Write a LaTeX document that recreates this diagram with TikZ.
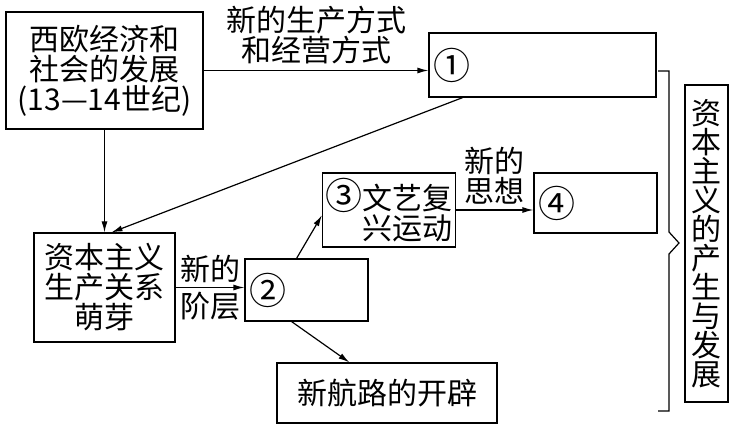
\documentclass[tikz,border=0pt]{standalone}
\usepackage{fontspec}
\newfontfamily\cjk{Noto Sans CJK SC}
\usetikzlibrary{positioning, arrows.meta, calc}
\newcommand{\cnum}[1]{{\fontsize{37}{29}\selectfont #1}}

\begin{document}
\begin{tikzpicture}[x=1pt, y=-1pt, line width=1.2pt,
  font=\cjk\fontsize{30}{30}\selectfont,
  box/.style={draw, inner sep=3pt, align=center},
  arr/.style={-{Latex[length=11pt, width=6pt]}}]

\useasboundingbox (0,0) rectangle (735,427);

% 方框
\node[box, minimum width=197, minimum height=117] (west) at (104.5,70.5) {西欧经济和\\社会的发展\\(13—14世纪)};
\node[box, inner xsep=4pt, text width=219, minimum height=64, align=left] (one) at (542.5,65) {\cnum{①}};
\node[box, minimum width=141, minimum height=109] (rel) at (104.5,287.5) {资本主义\\生产关系\\萌芽};
\node[box, inner xsep=4pt, text width=115, minimum height=62, align=left] (two) at (306.5,290) {\cnum{②}};
\node[box, minimum width=130, minimum height=74, align=right] (three) at (389,210) {\cnum{③}文艺复\\兴运动};
\node[box, inner xsep=4pt, text width=115, minimum height=60, align=left] (four) at (595.5,203) {\cnum{④}};
\node[box, minimum width=220, minimum height=60] (route) at (387,393) {新航路的开辟};
\node[box, minimum width=43, minimum height=317, inner sep=1pt, font=\cjk\fontsize{30}{29}\selectfont] (cap) at (706.5,243.5) {资\\本\\主\\义\\的\\产\\生\\与\\发\\展};

% 箭头
\draw[arr] (west.east) -- (west.east -| one.west)
  node[midway, above=3pt, align=center] (lab1) {新的生产方式\\和经营方式};
\draw[arr] (west.south) -- (rel.north);
\draw[arr] ($(one.south west)!0.15!(one.south east)$) -- ([xshift=7pt]rel.north);
\draw[arr] (rel.east) -- (rel.east -| two.west)
  node[midway, above=1pt] (lab2) {新的}
  node[midway, below=1pt] (lab3) {阶层};
\draw[arr] ($(two.north west)!0.42!(two.north east)$) -- ($(three.north west)!0.57!(three.south west)$);
\draw[arr] (three.east) -- (three.east -| four.west)
  node[midway, above=2pt, align=center] (lab4) {新的\\思想};
\draw[arr] ($(two.south west)!0.38!(two.south east)$) -- ($(route.north west)!0.33!(route.north east)$);

% 括号
\draw (658,71) -- (669,71) -- (669,232) -- (679,243) -- (669,254) -- (669,411) -- (658,411);

\end{tikzpicture}
\end{document}
